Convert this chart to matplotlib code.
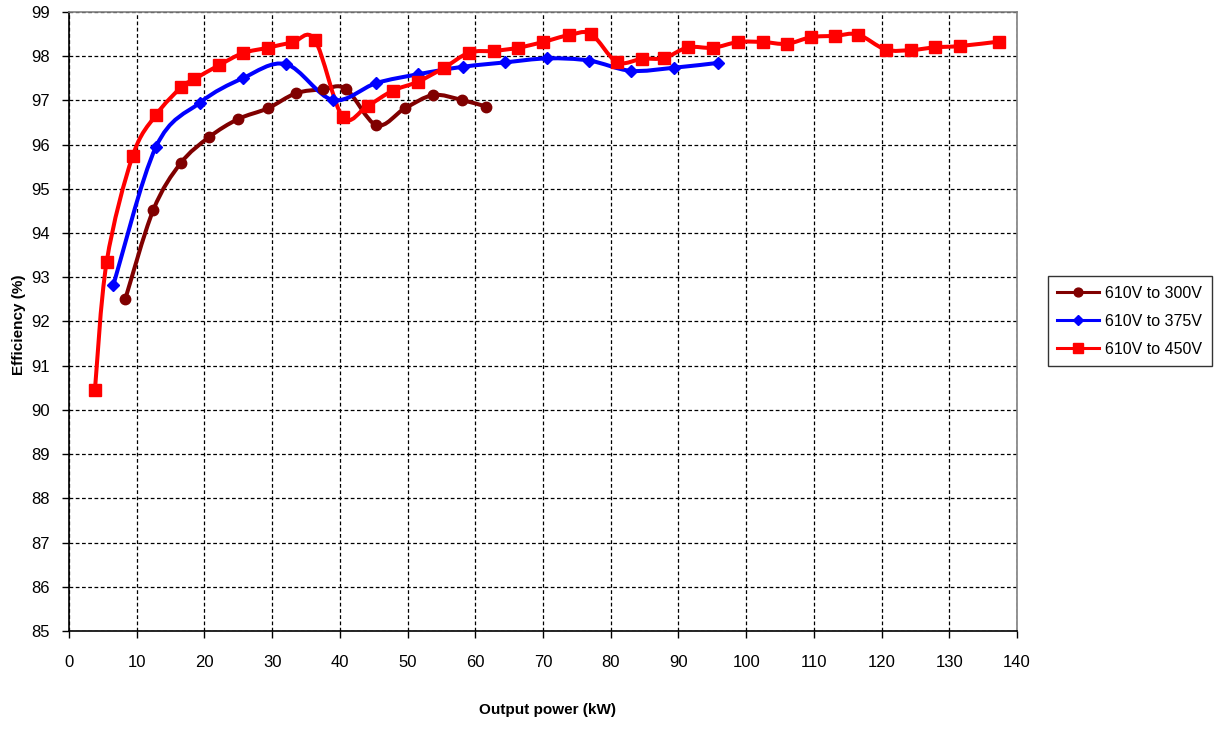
import numpy as np
import matplotlib
matplotlib.use("Agg")
import matplotlib.pyplot as plt
from matplotlib.path import Path
from matplotlib.patches import PathPatch
from matplotlib.lines import Line2D

plt.rcParams.update({
    "font.family": ["Liberation Sans", "DejaVu Sans"],
    "font.size": 12,
})

# --- Data ---
p300 = [8.3, 12.45, 16.5, 20.7, 25.0, 29.35, 33.5, 37.5, 40.9, 45.4, 49.6, 53.8, 58.0, 61.6]
e300 = [92.50, 94.52, 95.58, 96.17, 96.58, 96.82, 97.16, 97.25, 97.26, 96.44, 96.82, 97.12, 97.01, 96.86]

p375 = [6.55, 12.85, 19.35, 25.65, 32.05, 38.95, 45.35, 51.5, 58.15, 64.4, 70.65, 76.85, 82.95, 89.4, 95.9]
e375 = [92.82, 95.95, 96.95, 97.50, 97.82, 97.01, 97.39, 97.59, 97.76, 97.86, 97.95, 97.90, 97.67, 97.74, 97.85]

p450 = [3.84, 5.57, 9.4, 12.85, 16.6, 18.5, 22.2, 25.7, 29.35, 33.0, 36.3, 40.4, 44.1,
        47.8, 51.5, 55.4, 59.1, 62.8, 66.3, 70.0, 73.9, 77.1, 80.9, 84.6, 87.9, 91.4,
        95.1, 98.8, 102.5, 106.0, 109.6, 113.1, 116.5, 120.6, 124.4, 127.9, 131.6, 137.3]
e450 = [90.46, 93.35, 95.74, 96.67, 97.30, 97.48, 97.80, 98.07, 98.19, 98.31, 98.37, 96.63, 96.88,
        97.22, 97.42, 97.74, 98.08, 98.12, 98.19, 98.32, 98.48, 98.50, 97.87, 97.94, 97.96, 98.20,
        98.19, 98.32, 98.32, 98.28, 98.43, 98.46, 98.49, 98.15, 98.14, 98.20, 98.23, 98.33]

series = [
    ("610V to 300V", p300, e300, "#800000", "o", 7.5),
    ("610V to 375V", p375, e375, "#0000FF", "D", 6.5),
    ("610V to 450V", p450, e450, "#FF0000", "s", 8),
]


def smooth_path(xs, ys):
    # Excel-style smoothed line (Catmull-Rom as cubic Bezier)
    pts = np.column_stack([xs, ys]).astype(float)
    n = len(pts)
    verts = [pts[0]]
    codes = [Path.MOVETO]
    for i in range(n - 1):
        p0 = pts[i - 1] if i > 0 else pts[i]
        p1 = pts[i]
        p2 = pts[i + 1]
        p3 = pts[i + 2] if i + 2 < n else pts[i + 1]
        verts += [p1 + (p2 - p0) / 6.0, p2 - (p3 - p1) / 6.0, p2]
        codes += [Path.CURVE4] * 3
    return Path(verts, codes)


fig = plt.figure(figsize=(12.14, 7.30), dpi=100)
ax = fig.add_axes([0.0568, 0.1356, 0.781, 0.848])

handles = []
for label, xs, ys, col, mk, ms in series:
    ax.add_patch(PathPatch(smooth_path(xs, ys), facecolor="none", edgecolor=col,
                           lw=2.9, capstyle="round", joinstyle="round", zorder=3))
    ax.plot(xs, ys, ls="none", marker=mk, ms=ms, color=col, zorder=4)
    handles.append(Line2D([], [], color=col, lw=2.2, marker=mk, ms=ms * 0.85, label=label))

ax.set_xlim(0, 140)
ax.set_ylim(85, 99)
ax.set_xticks(np.arange(0, 141, 10))
ax.set_yticks(np.arange(85, 100, 1))
ax.grid(True, color="black", ls=(0, (3, 2)), lw=0.9)
ax.set_axisbelow(True)
ax.tick_params(direction="out", length=5, width=1, labelsize=12)
ax.tick_params(axis="x", pad=12)
ax.tick_params(axis="y", pad=9)

for s in ["left", "bottom"]:
    ax.spines[s].set_color("black")
    ax.spines[s].set_linewidth(1.2)
for s in ["top", "right"]:
    ax.spines[s].set_color("#808080")
    ax.spines[s].set_linewidth(1.2)

fig.text(0.451, 0.018, "Output power (kW)", ha="center", va="bottom",
         fontsize=11, fontweight="bold")
fig.text(0.010, 0.555, "Efficiency (%)", ha="left", va="center", rotation=90,
         fontsize=11, fontweight="bold")

leg = fig.legend(handles=handles, loc="upper left", bbox_to_anchor=(0.863, 0.622),
                 frameon=True, fancybox=False, edgecolor="black", fontsize=11.5,
                 handlelength=2.6, borderpad=0.6, labelspacing=0.82, handletextpad=0.4,
                 borderaxespad=0)
leg.get_frame().set_linewidth(1.0)

fig.savefig("out.png", dpi=100)
